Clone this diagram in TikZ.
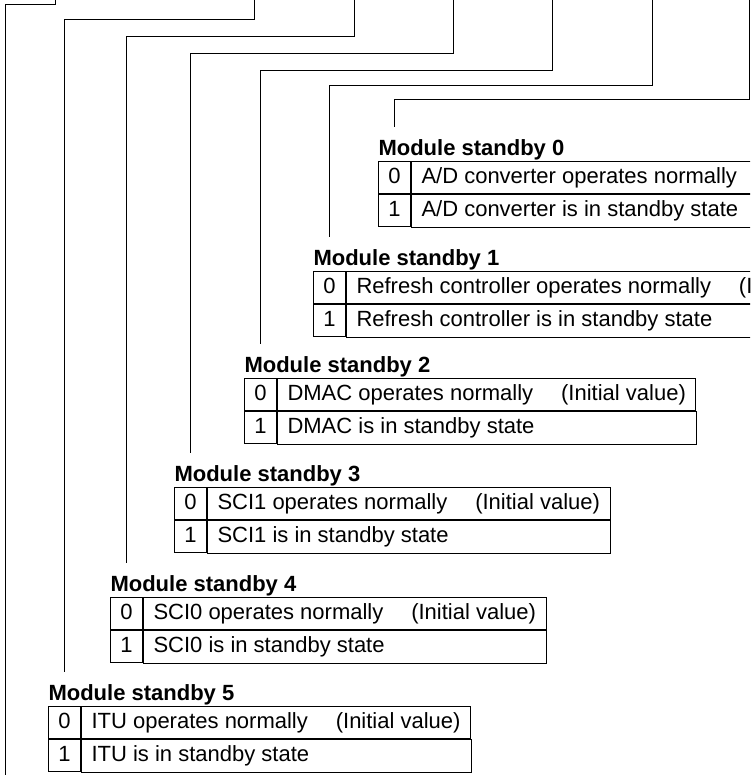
\documentclass[tikz,border=0pt]{standalone}
\usepackage{fontspec}
\setmainfont{Liberation Sans}
\usetikzlibrary{positioning}

\begin{document}
\begin{tikzpicture}[x=1pt, y=-1pt, line width=1pt,
    font=\fontsize{22}{26}\selectfont,
    bitcell/.style={draw, minimum width=32pt, minimum height=32pt, inner sep=0pt,
      text height=16pt, text depth=5pt},
    desccell/.style={minimum height=32pt, inner xsep=10pt, inner ysep=0pt,
      text height=16pt, text depth=5pt},
    modtitle/.style={font=\fontsize{22}{26}\selectfont\bfseries, anchor=base west, inner sep=0pt}]
  \useasboundingbox (0,0) rectangle (750,781);
  \clip (0,0) rectangle (750,781);

  % Module standby 0
  \node[bitcell, anchor=north west] (b0z) at (378,161) {0};
  \node[desccell, draw, right=0pt of b0z] (d0z) {A/D converter operates normally\hspace{1.27em}(Initial value)};
  \node[bitcell, below=0pt of b0z] (b0o) {1};
  \node[desccell, right=0pt of b0o] (d0o) {A/D converter is in standby state};
  \draw (d0o.north west) rectangle (d0z.east |- d0o.south);
  \node[modtitle] (lab0) at ([yshift=6pt]b0z.north west) {Module standby 0};
  \coordinate (e0) at ([yshift=34pt]b0z.north);

  % Module standby 1
  \node[bitcell, anchor=north west] (b1z) at (313,271) {0};
  \node[desccell, draw, right=0pt of b1z] (d1z) {Refresh controller operates normally\hspace{1.27em}(Initial value)};
  \node[bitcell, below=0pt of b1z] (b1o) {1};
  \node[desccell, right=0pt of b1o] (d1o) {Refresh controller is in standby state};
  \draw (d1o.north west) rectangle (d1z.east |- d1o.south);
  \node[modtitle] (lab1) at ([yshift=6pt]b1z.north west) {Module standby 1};
  \coordinate (e1) at ([yshift=34pt]b1z.north);

  % Module standby 2
  \node[bitcell, anchor=north west] (b2z) at (244,378) {0};
  \node[desccell, draw, right=0pt of b2z] (d2z) {DMAC operates normally\hspace{1.27em}(Initial value)};
  \node[bitcell, below=0pt of b2z] (b2o) {1};
  \node[desccell, right=0pt of b2o] (d2o) {DMAC is in standby state};
  \draw (d2o.north west) rectangle (d2z.east |- d2o.south);
  \node[modtitle] (lab2) at ([yshift=6pt]b2z.north west) {Module standby 2};
  \coordinate (e2) at ([yshift=34pt]b2z.north);

  % Module standby 3
  \node[bitcell, anchor=north west] (b3z) at (174,487) {0};
  \node[desccell, draw, right=0pt of b3z] (d3z) {SCI1 operates normally\hspace{1.27em}(Initial value)};
  \node[bitcell, below=0pt of b3z] (b3o) {1};
  \node[desccell, right=0pt of b3o] (d3o) {SCI1 is in standby state};
  \draw (d3o.north west) rectangle (d3z.east |- d3o.south);
  \node[modtitle] (lab3) at ([yshift=6pt]b3z.north west) {Module standby 3};
  \coordinate (e3) at ([yshift=34pt]b3z.north);

  % Module standby 4
  \node[bitcell, anchor=north west] (b4z) at (110,597) {0};
  \node[desccell, draw, right=0pt of b4z] (d4z) {SCI0 operates normally\hspace{1.27em}(Initial value)};
  \node[bitcell, below=0pt of b4z] (b4o) {1};
  \node[desccell, right=0pt of b4o] (d4o) {SCI0 is in standby state};
  \draw (d4o.north west) rectangle (d4z.east |- d4o.south);
  \node[modtitle] (lab4) at ([yshift=6pt]b4z.north west) {Module standby 4};
  \coordinate (e4) at ([yshift=34pt]b4z.north);

  % Module standby 5
  \node[bitcell, anchor=north west] (b5z) at (48,706) {0};
  \node[desccell, draw, right=0pt of b5z] (d5z) {ITU operates normally\hspace{1.27em}(Initial value)};
  \node[bitcell, below=0pt of b5z] (b5o) {1};
  \node[desccell, right=0pt of b5o] (d5o) {ITU is in standby state};
  \draw (d5o.north west) rectangle (d5z.east |- d5o.south);
  \node[modtitle] (lab5) at ([yshift=6pt]b5z.north west) {Module standby 5};
  \coordinate (e5) at ([yshift=34pt]b5z.north);

  % leader lines from the register bits
  \foreach \k/\x/\h in {0/749.5/100, 1/652/86, 2/552/71, 3/453/54, 4/354/37, 5/254/20} {
      \coordinate (top\k) at (\x,0);
      \draw (top\k) -- ++(0,\h) -| (e\k);
    }
  \coordinate (top7) at (55,0);
  \coordinate (e7) at (5,775);
  \draw (top7) -- ++(0,5) -| (e7);
\end{tikzpicture}
\end{document}
